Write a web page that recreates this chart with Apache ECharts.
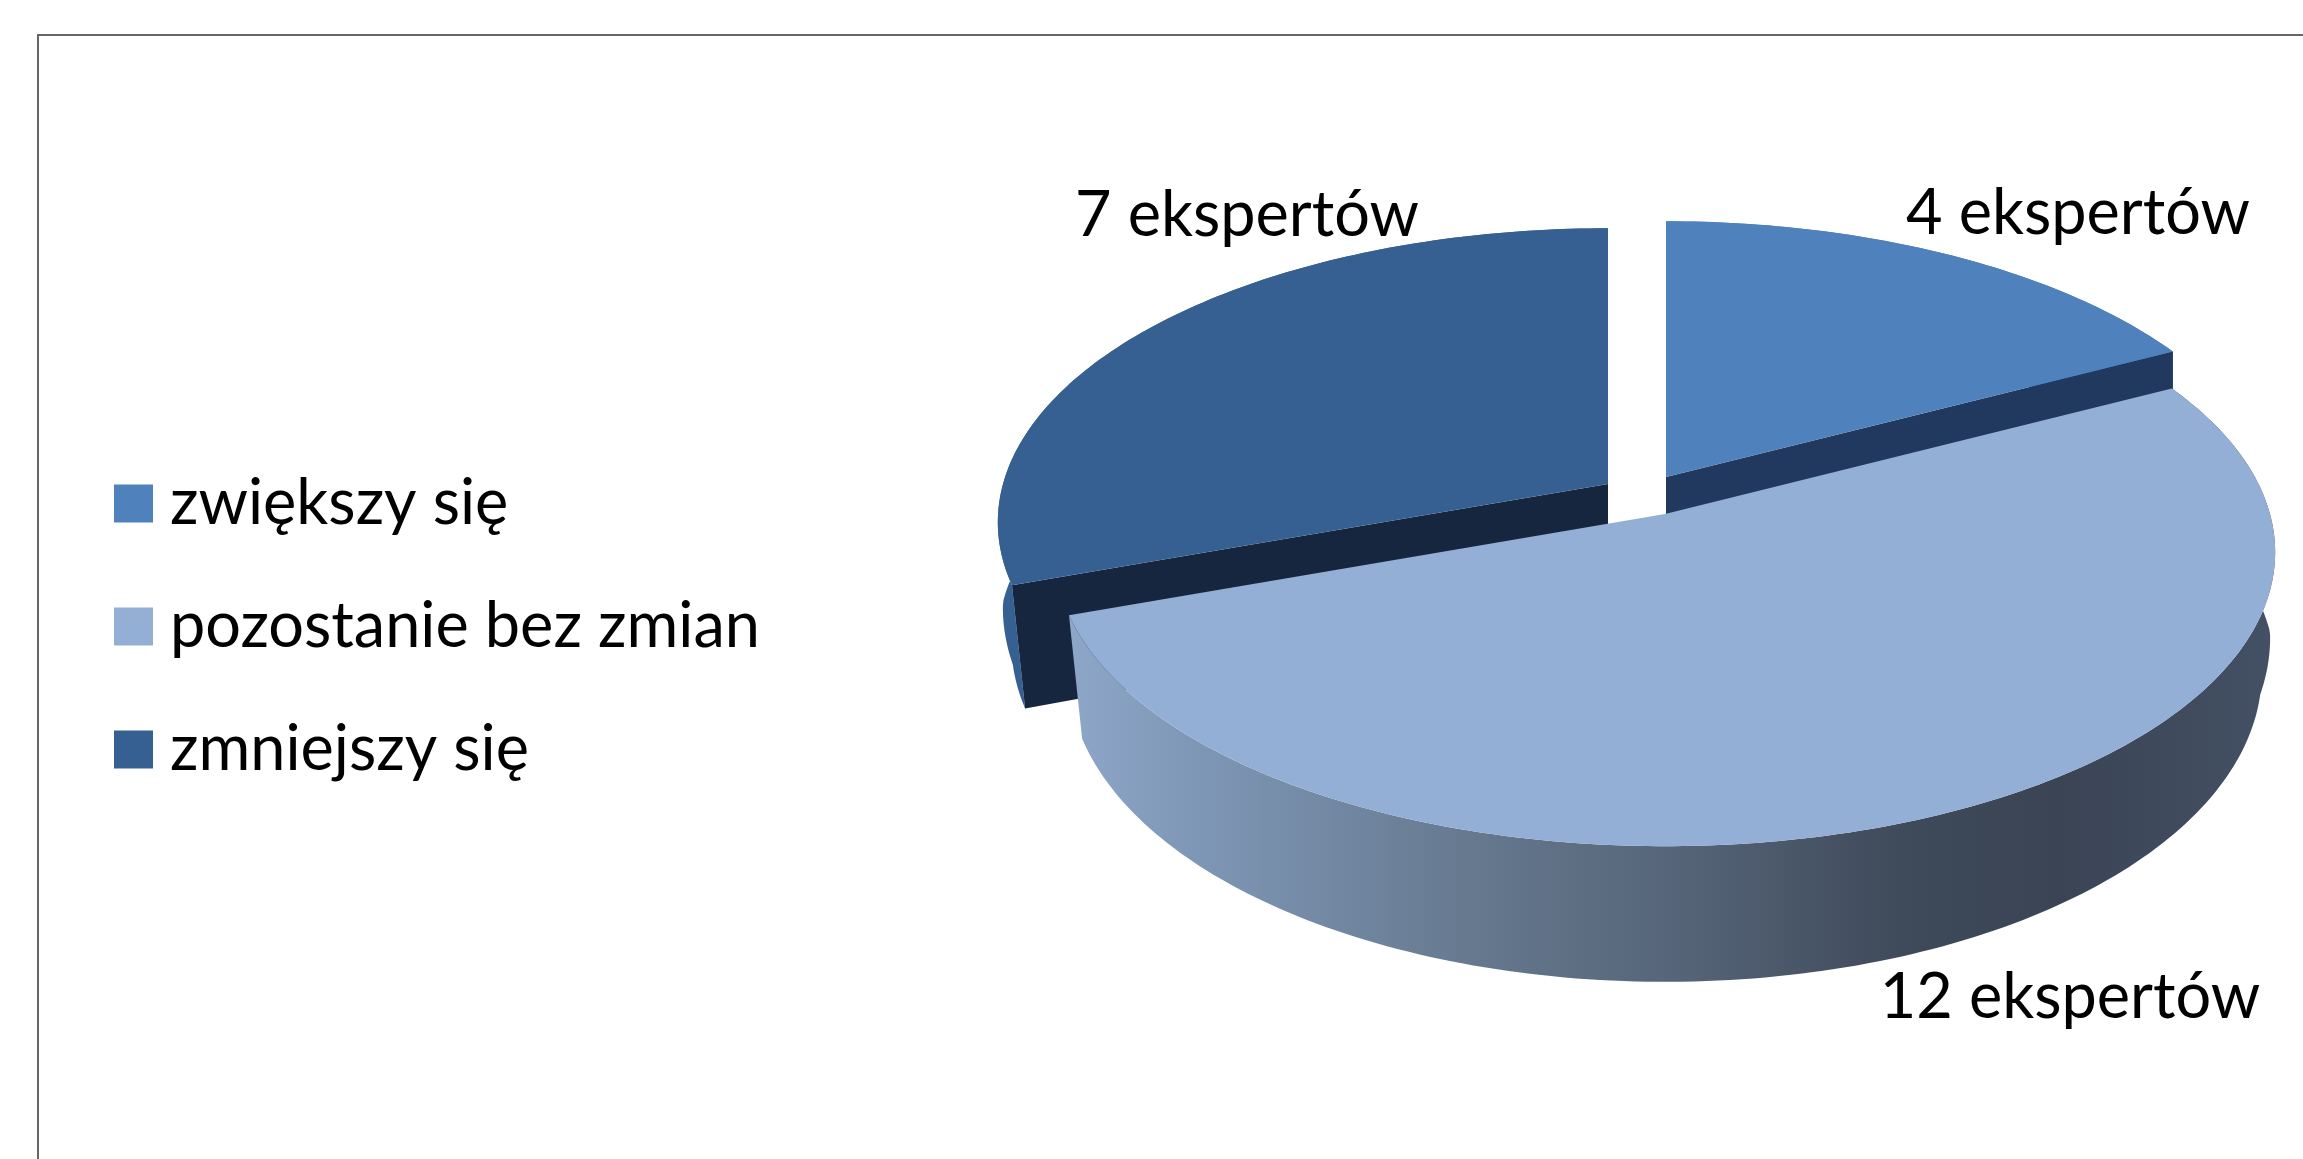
<!DOCTYPE html>
<html>
<head>
<meta charset="utf-8">
<title>Eksperci</title>
<script src="https://cdn.jsdelivr.net/npm/echarts@6/dist/echarts.min.js"></script>
<style>
  html, body { margin: 0; padding: 0; background: #fff; }
  #chart { width: 2303px; height: 1159px; }
</style>
</head>
<body>
<div id="chart"></div>
<script>
const categories = ['zwiększy się', 'pozostanie bez zmian', 'zmniejszy się']
const experts = [4, 12, 7]
const colors = ['#4f81bd', '#93afd5', '#376092']

const fontFamily = 'Lato'
const fontSize = 63

// 3D look: the disc is a circle seen in perspective, every slice is pulled out of the middle
const disc = { x: 1665, y: 514, rx: 605, ry: 289, k: 0.13, depth: 118, shrink: 0.022 }
const pullOut = [[1, -37], [0, 0], [-57, -30]]
const labelAt = [[2078, 214], [2070, 998], [1247, 216]]
const cutColors = ['#22395f', null, '#17263f']
const drawOrder = [0, 2, 1]

const total = experts.reduce((a, b) => a + b, 0)

// r: 0..1 from the middle, a: radians clockwise from 12 o'clock, h: 1 on the bottom of the wall
function project(i, a, r, h) {
  const u = r * Math.sin(a)
  const v = r * Math.cos(a)
  const w = 1 + disc.k * v
  // the bottom rim narrows towards the viewer only, so it leaves the top rim smoothly at the sides
  const scale = h ? 1 - disc.shrink * Math.min(1, Math.max(0, -v / 0.2)) : 1
  return [
    disc.x + pullOut[i][0] + scale * disc.rx * u / w,
    disc.y + pullOut[i][1] - disc.ry * v / w + h * disc.depth / w
  ]
}

function arc(i, from, to, h) {
  const steps = Math.ceil(Math.abs(to - from) / (Math.PI / 180))
  const pts = []
  for (let s = 0; s <= steps; s++) {
    pts.push(project(i, from + (to - from) * s / steps, 1, h))
  }
  return pts
}

function renderSlice(i, params, api) {
  const value = api.value(0)
  let before = 0
  for (let j = 0; j < i; j++) before += experts[j]
  const from = before / total * Math.PI * 2
  const to = (before + value) / total * Math.PI * 2

  const children = []
  // outer wall
  children.push({
    type: 'polygon',
    shape: { points: arc(i, from, to, 0).concat(arc(i, to, from, 1)) },
    style: {
      fill: i === 1 ? {
        type: 'linear', x: 0, y: 0, x2: 1, y2: 0,
        colorStops: [
          { offset: 0, color: '#8ea7c8' },
          { offset: 0.09, color: '#8099b9' },
          { offset: 0.33, color: '#66798f' },
          { offset: 0.5, color: '#566579' },
          { offset: 0.7, color: '#3e4959' },
          { offset: 0.82, color: '#3a4455' },
          { offset: 1, color: '#445064' }
        ]
      } : colors[i]
    }
  })
  // cut face that looks at the viewer
  if (cutColors[i]) {
    const edge = i === 0 ? to : from
    children.push({
      type: 'polygon',
      shape: {
        points: [
          project(i, edge, 0, 0), project(i, edge, 1, 0),
          project(i, edge, 1, 1), project(i, edge, 0, 1)
        ]
      },
      style: { fill: cutColors[i] }
    })
  }
  // top of the slice
  children.push({
    type: 'polygon',
    shape: { points: [project(i, 0, 0, 0)].concat(arc(i, from, to, 0)) },
    style: { fill: colors[i] }
  })
  children.push({
    type: 'text',
    style: {
      text: value + ' ekspertów',
      x: labelAt[i][0],
      y: labelAt[i][1],
      align: 'center',
      verticalAlign: 'middle',
      fill: '#000',
      fontFamily: fontFamily,
      fontSize: fontSize
    }
  })
  return { type: 'group', children: children }
}

const chart = echarts.init(document.getElementById('chart'))

chart.setOption({
  animation: false,
  backgroundColor: '#fff',
  legend: {
    orient: 'vertical',
    left: 114,
    top: 472,
    padding: 0,
    data: categories,
    icon: 'rect',
    itemWidth: 39,
    itemHeight: 38,
    itemGap: 60,
    selectedMode: false,
    textStyle: {
      fontFamily: fontFamily,
      fontSize: fontSize,
      color: '#000',
      lineHeight: 38,
      padding: [0, 0, 0, 12]
    }
  },
  graphic: [{
    type: 'rect',
    silent: true,
    shape: { x: 38, y: 35, width: 2400, height: 1300 },
    style: { fill: 'none', stroke: '#666', lineWidth: 2 }
  }],
  series: drawOrder.map(i => ({
    type: 'custom',
    name: categories[i],
    coordinateSystem: 'none',
    silent: true,
    z: 2 + drawOrder.indexOf(i),
    itemStyle: { color: colors[i] },
    data: [[experts[i]]],
    renderItem: (params, api) => renderSlice(i, params, api)
  }))
})
</script>
</body>
</html>
